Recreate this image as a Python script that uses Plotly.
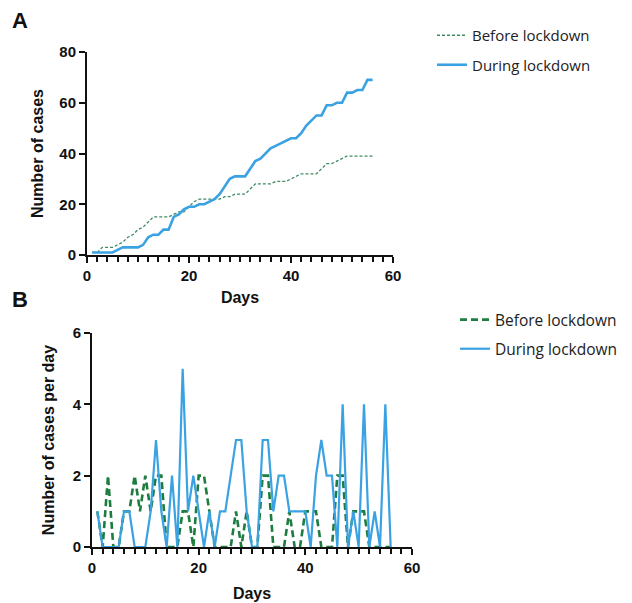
import plotly.graph_objects as go

days = list(range(1, 57))

# Panel A: cumulative number of cases
cum_before = [1, 1, 3, 3, 3, 4, 5, 7, 8, 10, 11, 13, 15, 15, 15, 15, 16, 17, 17, 19,
              21, 22, 22, 22, 22, 22, 23, 23, 24, 24, 24, 26, 28, 28, 28, 28, 29, 29, 29, 30,
              31, 32, 32, 32, 32, 34, 36, 36, 37, 38, 39, 39, 39, 39, 39, 39]
cum_during = [1, 1, 1, 1, 1, 2, 3, 3, 3, 3, 4, 7, 8, 8, 10, 10, 15, 16, 18, 19,
              19, 20, 20, 21, 22, 24, 27, 30, 31, 31, 31, 34, 37, 38, 40, 42, 43, 44, 45, 46,
              46, 48, 51, 53, 55, 55, 59, 59, 60, 60, 64, 64, 65, 65, 69, 69]

# Panel B: number of cases per day
daily_before = [1, 0, 2, 0, 0, 1, 1, 2, 1, 2, 1, 2, 2, 0, 0, 0, 1, 1, 0, 2,
                2, 1, 0, 0, 0, 0, 1, 0, 1, 0, 0, 2, 2, 0, 0, 0, 1, 0, 0, 1,
                1, 1, 0, 0, 0, 2, 2, 0, 1, 1, 1, 0, 0, 0, 0, 0]
daily_during = [1, 0, 0, 0, 0, 1, 1, 0, 0, 0, 1, 3, 1, 0, 2, 0, 5, 1, 2, 1,
                0, 1, 0, 1, 1, 2, 3, 3, 1, 0, 0, 3, 3, 1, 2, 2, 1, 1, 1, 1,
                0, 2, 3, 2, 2, 0, 4, 0, 1, 0, 4, 0, 1, 0, 4, 0]

x_ticks = [0, 20, 40, 60]
ya_ticks = [0, 20, 40, 60, 80]
yb_ticks = [0, 2, 4, 6]

# page body has an 8px margin; work in window pixels and convert
OFF = 8
W, H = 632 - OFF, 603 - OFF

def px(v):
    return (v - OFF) / W

def py(v):
    return 1 - (v - OFF) / H

BLUE = "#3aa2e2"
GREEN_A = "#3f8c62"
GREEN_B = "#1d7d3e"

fig = go.Figure()
fig.add_trace(go.Scatter(x=days, y=cum_before, mode="lines", name="Before lockdown",
                         line=dict(color=GREEN_A, width=1.3, dash="3px,2px"),
                         xaxis="x", yaxis="y", legend="legend", legendgroup="a1"))
fig.add_trace(go.Scatter(x=days, y=cum_during, mode="lines", name="During lockdown",
                         line=dict(color=BLUE, width=2.6),
                         xaxis="x", yaxis="y", legend="legend", legendgroup="a2"))
fig.add_trace(go.Scatter(x=days, y=daily_before, mode="lines", name="Before lockdown",
                         line=dict(color=GREEN_B, width=2.6, dash="7px,4px"),
                         xaxis="x2", yaxis="y2", legend="legend2", legendgroup="b1"))
fig.add_trace(go.Scatter(x=days, y=daily_during, mode="lines", name="During lockdown",
                         line=dict(color=BLUE, width=2.2),
                         xaxis="x2", yaxis="y2", legend="legend2", legendgroup="b2"))

tickfont = dict(family="Liberation Sans", size=15, color="#111", weight="bold")
titlefont = dict(family="Liberation Sans", size=16, color="#111", weight="bold")

def xax(domain, anchor, standoff):
    return dict(domain=domain, anchor=anchor, range=[0, 60], tickvals=x_ticks, automargin=False,
                showgrid=False, zeroline=False, showline=True, linecolor="#111", linewidth=2,
                ticks="outside", ticklen=6, tickwidth=2, tickcolor="#111", tickfont=tickfont,
                minor=dict(dtick=2, tick0=0, ticks="outside", ticklen=5, tickwidth=1.5, tickcolor="#111"),
                title=dict(text="Days", font=titlefont, standoff=standoff))

def yax(domain, anchor, rng, vals, title, standoff):
    return dict(domain=domain, anchor=anchor, range=rng, tickvals=vals, automargin=False,
                showgrid=False, zeroline=False, showline=True, linecolor="#111", linewidth=2,
                ticks="outside", ticklen=6, tickwidth=2, tickcolor="#111", tickfont=tickfont,
                title=dict(text=title, font=titlefont, standoff=standoff))

legfont_a = dict(family="Open Sans", size=15, color="#222")
legfont_b = dict(family="Open Sans", size=15.5, color="#222")

fig.update_layout(
    width=W, height=H, margin=dict(l=0, r=0, t=0, b=0, autoexpand=False),
    paper_bgcolor="white", plot_bgcolor="white",
    xaxis=xax([px(87), px(393)], "y", 9),
    yaxis=yax([py(255), py(52)], "x", [0, 80], ya_ticks, "Number of cases", 12),
    xaxis2=xax([px(92), px(412)], "y2", 13),
    yaxis2=yax([py(547), py(333)], "x2", [0, 6], yb_ticks, "Number of cases per day", 14),
    legend=dict(x=px(432), y=py(19), xanchor="left", yanchor="top", font=legfont_a,
                tracegroupgap=7, bgcolor="rgba(0,0,0,0)", itemwidth=30),
    legend2=dict(x=px(455), y=py(303), xanchor="left", yanchor="top", font=legfont_b,
                 tracegroupgap=6, bgcolor="rgba(0,0,0,0)", itemwidth=30),
    annotations=[
        dict(text="A", x=px(10), y=py(20), xref="paper", yref="paper", xanchor="left",
             yanchor="middle", showarrow=False,
             font=dict(family="Liberation Sans", size=22, color="#111", weight="bold")),
        dict(text="B", x=px(10), y=py(299), xref="paper", yref="paper", xanchor="left",
             yanchor="middle", showarrow=False,
             font=dict(family="Liberation Sans", size=22, color="#111", weight="bold")),
    ],
)

fig.write_html("out.html")
